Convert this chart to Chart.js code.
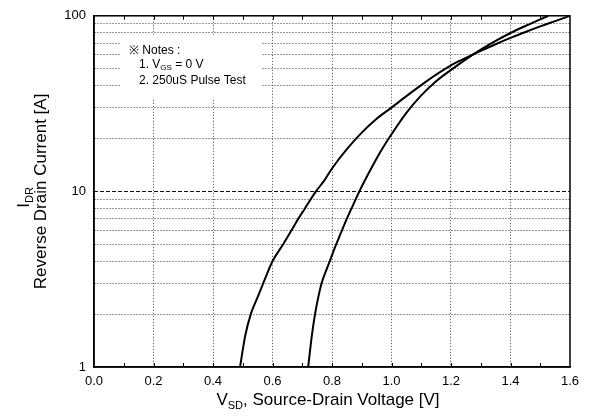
<!DOCTYPE html>
<html><head><meta charset="utf-8">
<script src="https://cdn.jsdelivr.net/npm/chart.js@4/dist/chart.umd.min.js"></script>
<style>html,body{margin:0;padding:0;background:#fff}canvas{display:block}</style>
</head><body>
<canvas id="c" width="589" height="418"></canvas>
<script>
// ---- data ----
const curveA_V = [0.491, 0.508, 0.527, 0.550, 0.569, 0.600, 0.636, 0.664, 0.687, 0.709, 0.728, 0.746, 0.775, 0.800, 0.850, 0.900, 0.950, 1.000, 1.050, 1.100, 1.150, 1.200, 1.250, 1.300, 1.350, 1.400, 1.450, 1.500, 1.550, 1.600];
const curveA_I = [1, 1.5, 2, 2.5, 3, 4, 5, 6, 7, 8, 9, 10, 11.6, 13.5, 17.4, 21.6, 25.9, 30, 34.9, 40.3, 46.2, 52.2, 57.5, 63.1, 68.9, 74.8, 80.9, 87.1, 93.3, 100];
const curveB_V = [0.720, 0.732, 0.743, 0.754, 0.765, 0.790, 0.810, 0.830, 0.850, 0.870, 0.892, 0.920, 0.950, 0.970, 0.989, 1.050, 1.100, 1.150, 1.200, 1.250, 1.300, 1.350, 1.400, 1.450, 1.500, 1.527];
const curveB_I = [1, 1.5, 2, 2.5, 3, 3.9, 4.8, 5.8, 7.0, 8.3, 10, 12.4, 15.4, 17.6, 19.8, 28.0, 35.2, 42.4, 49.2, 56.5, 64.1, 71.9, 79.8, 87.5, 95.4, 100];
const xMin = 0, xMax = 1.6, xStep = 0.1;
const yGridValues = [1,2,3,4,5,6,7,8,9,10,20,30,40,50,60,70,80,90,100];
const yTickLabels = [1, 10, 100];
const majorLine = 10;
const xTitle = ['V', 'SD', ', Source-Drain Voltage [V]'];
const yTitle1 = ['I', 'DR'];
const yTitle2 = 'Reverse Drain Current [A]';
const notesHead = '\u203B Notes :';
const note1 = ['1. V', 'GS', ' = 0 V'];
const note2 = '2. 250uS Pulse Test';

const FONT = "'Liberation Sans', Arial, Helvetica, sans-serif";
const toPts = (vs, is) => vs.map((v, k) => ({x: v, y: is[k]}));
const clear = 'rgba(0,0,0,0)';

function drawSub(ctx, parts, x, y, big, small, shift, align) {
  ctx.font = big + 'px ' + FONT;
  const w0 = ctx.measureText(parts[0]).width;
  const w2 = ctx.measureText(parts[2] || '').width;
  ctx.font = small + 'px ' + FONT;
  const w1 = ctx.measureText(parts[1]).width;
  const total = w0 + w1 + w2;
  let sx = align === 'center' ? x - total / 2 : x;
  ctx.textAlign = 'left';
  ctx.font = big + 'px ' + FONT; ctx.fillText(parts[0], sx, y);
  ctx.font = small + 'px ' + FONT; ctx.fillText(parts[1], sx + w0, y + shift);
  if (parts[2]) { ctx.font = big + 'px ' + FONT; ctx.fillText(parts[2], sx + w0 + w1, y); }
}

const decor = {
  id: 'decor',
  beforeDatasetsDraw(chart) {
    const {ctx, chartArea: a, scales: {x, y}} = chart;
    ctx.save();
    ctx.strokeStyle = '#111'; ctx.lineWidth = 1; ctx.setLineDash([4, 2]);
    const py = Math.round(y.getPixelForValue(majorLine)) + 0.5;
    ctx.beginPath(); ctx.moveTo(a.left, py); ctx.lineTo(a.right, py); ctx.stroke();
    ctx.setLineDash([]);
    ctx.fillStyle = '#fff';
    ctx.fillRect(a.left + 26, a.top + 19, 141, 63);
    ctx.fillStyle = '#000';
    ctx.textBaseline = 'middle'; ctx.textAlign = 'left';
    ctx.font = '12px ' + FONT;
    ctx.fillText(notesHead, a.left + 35, a.top + 35);
    drawSub(ctx, note1, a.left + 45, a.top + 48.5, 12, 8, 3, 'left');
    ctx.font = '12px ' + FONT;
    ctx.fillText(note2, a.left + 45, a.top + 65);
    ctx.restore();
  },
  afterDatasetsDraw(chart) {
    const {ctx, chartArea: a, scales: {x}} = chart;
    ctx.save();
    ctx.strokeStyle = '#000'; ctx.lineWidth = 1;
    const n = Math.round((xMax - xMin) / xStep);
    ctx.beginPath();
    for (let k = 1; k < n; k++) {
      const px = Math.round(x.getPixelForValue(xMin + k * xStep)) + 0.5;
      ctx.moveTo(px, a.bottom); ctx.lineTo(px, a.bottom - 4);
      ctx.moveTo(px, a.top); ctx.lineTo(px, a.top + 4);
    }
    ctx.stroke();
    ctx.lineWidth = 1.5;
    ctx.strokeRect(a.left, a.top, a.right - a.left, a.bottom - a.top);
    ctx.restore();
  },
  afterDraw(chart) {
    const {ctx, chartArea: a} = chart;
    ctx.save();
    ctx.fillStyle = '#000';
    ctx.textBaseline = 'alphabetic';
    drawSub(ctx, xTitle, (a.left + a.right) / 2 - 4, 405, 17, 11, 4, 'center');
    const cy = (a.top + a.bottom) / 2;
    ctx.translate(29, cy + 6);
    ctx.rotate(-Math.PI / 2);
    drawSub(ctx, yTitle1, 0, 0, 17, 11, 4, 'center');
    ctx.restore();
    ctx.save();
    ctx.fillStyle = '#000';
    ctx.translate(46, cy);
    ctx.rotate(-Math.PI / 2);
    ctx.font = '17px ' + FONT; ctx.textAlign = 'center'; ctx.textBaseline = 'alphabetic';
    ctx.fillText(yTitle2, 0, 0);
    ctx.restore();
  }
};

new Chart(document.getElementById('c'), {
  type: 'scatter',
  data: {datasets: [
    {data: toPts(curveA_V, curveA_I), showLine: true, borderColor: '#000', borderWidth: 2, pointRadius: 0, cubicInterpolationMode: 'monotone', fill: false},
    {data: toPts(curveB_V, curveB_I), showLine: true, borderColor: '#000', borderWidth: 2, pointRadius: 0, cubicInterpolationMode: 'monotone', fill: false}
  ]},
  options: {
    responsive: false, animation: false, devicePixelRatio: 1,
    layout: {padding: {top: 15, right: 19, left: 0, bottom: 0}},
    plugins: {legend: {display: false}, tooltip: {enabled: false}},
    scales: {
      x: {
        type: 'linear', min: xMin, max: xMax, position: 'bottom',
        afterFit(s) { s.height = 51; },
        ticks: {stepSize: xStep, autoSkip: false, maxRotation: 0, padding: 7, color: '#000',
          font: {family: FONT, size: 13},
          callback: (v) => { const t = Math.round(v * 10); return t % 2 === 0 ? (t / 10).toFixed(1) : ''; }},
        grid: {drawTicks: false, lineWidth: 1,
          color: (c) => { const t = Math.round(c.tick.value * 10); return (t % 2 === 0 && t > 0 && t < 16) ? '#444' : clear; }},
        border: {display: true, color: '#000', width: 1.5, dash: [1, 2]}
      },
      y: {
        type: 'logarithmic', min: 1, max: 100, position: 'left',
        afterFit(s) { s.width = 94; },
        afterBuildTicks(s) { s.ticks = yGridValues.map(v => ({value: v})); },
        ticks: {autoSkip: false, padding: 8, color: '#000', font: {family: FONT, size: 13},
          callback: (v) => yTickLabels.includes(v) ? String(v) : ''},
        grid: {drawTicks: false, lineWidth: 1,
          color: (c) => { const v = c.tick.value; return (v === 1 || v === 100 || v === majorLine) ? clear : '#333'; }},
        border: {display: true, color: '#000', width: 1.5, dash: [1, 2]}
      }
    }
  },
  plugins: [decor]
});
</script>
</body></html>
